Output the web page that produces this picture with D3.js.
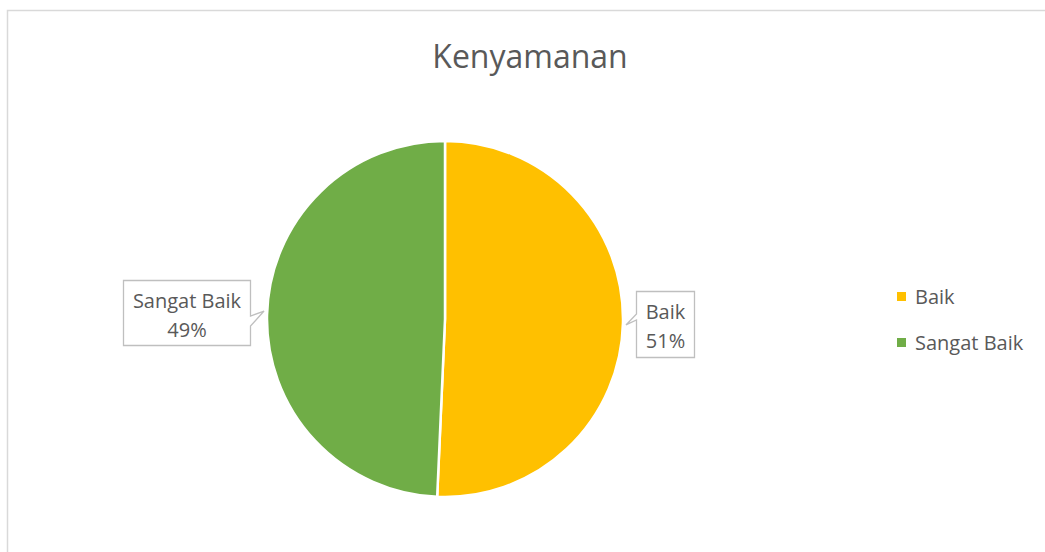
<!DOCTYPE html>
<html><head><meta charset="utf-8">
<script src="https://cdn.jsdelivr.net/npm/d3@7"></script>
<style>body{margin:0;background:#fff}svg{display:block}text{font-family:"Open Sans","Liberation Sans",sans-serif}</style>
</head><body><svg id="c" width="1045" height="552"></svg>
<script>
const title = "Kenyamanan";
const categories = ["Baik", "Sangat Baik"];
const values = [50.7, 49.3];
const colors = ["#FFC000", "#70AD47"];

const svg = d3.select("#c");
svg.append("rect").attr("x",7.5).attr("y",10.5).attr("width",1045).attr("height",560)
  .attr("fill","#fff").attr("stroke","#D9D9D9").attr("stroke-width",1.5);

svg.append("text").attr("x",530).attr("y",68).attr("text-anchor","middle")
  .attr("font-size",32).attr("fill","#595959").text(title);

const cx = 445, cy = 319, r = 178;
const pie = d3.pie().sort(null).value(d=>d.v);
const data = pie(categories.map((c,i)=>({c, v: values[i], col: colors[i]})));
const total = d3.sum(values);
const arc = d3.arc().innerRadius(0).outerRadius(r);
const g = svg.append("g").attr("transform",`translate(${cx},${cy})`);
g.selectAll("path").data(data).join("path").attr("d",arc)
  .attr("fill",d=>d.data.col).attr("stroke","#fff").attr("stroke-width",2.5);

// callouts
const boxes = [
  {w:58, h:66, dx:11, dy:-32},
  {w:127, h:65, dx:-142, dy:-35}
];
data.forEach((d,i)=>{
  const a = (d.startAngle+d.endAngle)/2;
  const tx = cx + Math.sin(a)*(r+2), ty = cy - Math.cos(a)*(r+2);
  const b = boxes[i];
  const bx = Math.round(tx + b.dx)+0.5, by = Math.round(ty + b.dy)+0.5;
  let p;
  if (Math.sin(a) > 0) {
    const y1 = ty - 9 , y2 = ty - 3;
    p = [[bx,by],[bx+b.w,by],[bx+b.w,by+b.h],[bx,by+b.h],[bx,y2],[tx+1,ty+2],[bx,y1]];
  } else {
    const rx = bx + b.w;
    const y1 = ty + 1, y2 = ty + 11;
    p = [[bx,by],[rx,by],[rx,y1],[tx-1,ty-4],[rx,y2],[rx,by+b.h],[bx,by+b.h]];
  }
  svg.append("path").attr("d","M"+p.map(q=>q.join(",")).join("L")+"Z")
    .attr("fill","#fff").attr("stroke","#BFBFBF").attr("stroke-width",1.3);
  const mx = bx + b.w/2;
  svg.append("text").attr("x",mx).attr("y",by+27).attr("text-anchor","middle")
    .attr("font-size",20).attr("fill","#595959").text(d.data.c);
  svg.append("text").attr("x",mx).attr("y",by+56).attr("text-anchor","middle")
    .attr("font-size",20).attr("fill","#595959").text(Math.round(d.data.v/total*100)+"%");
});

// legend
const lg = svg.append("g");
categories.forEach((c,i)=>{
  const y = 297 + i*46;
  lg.append("rect").attr("x",897).attr("y",y-5).attr("width",9).attr("height",9).attr("fill",colors[i]);
  lg.append("text").attr("x",915).attr("y",y+7).attr("font-size",20).attr("fill","#595959").text(c);
});
</script></body></html>
